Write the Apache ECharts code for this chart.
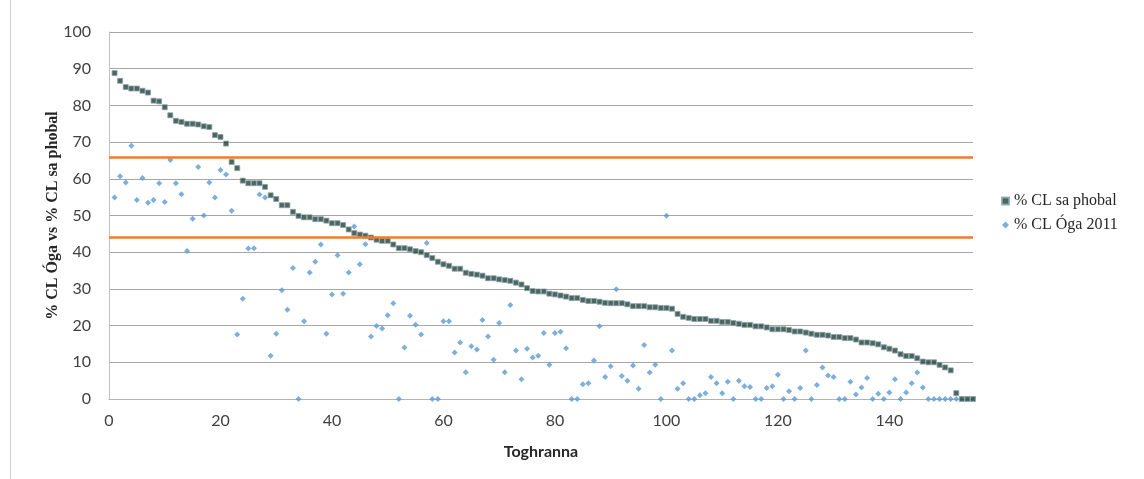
<!DOCTYPE html>
<html>
<head>
<meta charset="utf-8">
<script src="https://cdn.jsdelivr.net/npm/echarts@6/dist/echarts.min.js"></script>
<style>
html,body{margin:0;padding:0;background:#fff;}
#chart{width:1144px;height:479px;}
</style>
</head>
<body>
<div id="chart"></div>
<script>
var seriesNames = ['% CL sa phobal', '% CL Óga 2011'];
var xAxisTitle = 'Toghranna';
var yAxisTitle = '% CL Óga vs % CL sa phobal';
var thresholds = [65.8, 44.1];

var phobal = [
88.8,86.7,85.0,84.6,84.6,84.0,83.5,81.3,81.1,79.5,
77.3,75.8,75.5,75.0,75.0,74.8,74.3,74.1,71.9,71.4,
69.6,64.6,62.9,59.5,58.8,58.8,58.8,57.8,55.5,54.5,
52.8,52.8,51.0,49.9,49.5,49.5,49.0,49.0,48.6,47.9,
47.9,47.4,46.2,45.2,44.8,44.5,44.0,43.4,43.1,43.1,
42.1,41.1,41.1,40.8,40.3,40.0,39.2,38.4,37.4,36.7,
36.3,35.5,35.5,34.4,34.1,33.9,33.6,32.9,32.9,32.6,
32.4,32.2,31.7,31.2,30.2,29.4,29.3,29.3,28.7,28.5,
28.2,27.9,27.5,27.5,27.0,26.7,26.7,26.5,26.2,26.1,
26.1,26.1,25.8,25.3,25.3,25.3,25.0,25.0,24.8,24.8,
24.6,23.2,22.4,22.1,21.8,21.8,21.8,21.3,21.3,21.0,
21.0,20.7,20.5,20.2,20.2,19.8,19.8,19.5,19.0,19.0,
19.0,18.8,18.4,18.4,18.1,17.8,17.5,17.5,17.3,16.9,
16.9,16.6,16.6,16.2,15.4,15.4,15.2,14.9,14.1,13.7,
13.2,12.2,11.7,11.7,11.1,10.2,10.0,10.0,9.3,8.6,
7.8,1.6,0,0,0
];

var oga = [
54.9,60.7,59.0,69.0,54.2,60.2,53.5,54.2,58.8,53.7,
65.1,58.8,55.8,40.3,49.1,63.2,50.0,59.0,54.9,62.4,
61.2,51.3,17.6,27.3,41.0,41.1,55.7,54.9,11.8,17.8,
29.6,24.3,35.7,0,21.2,34.5,37.4,42.1,17.8,28.5,
39.2,28.7,34.5,47.0,36.7,42.2,17.0,19.9,19.2,22.8,
26.1,0,14.0,22.7,20.2,17.6,42.5,0,0,21.2,
21.2,12.7,15.4,7.3,14.4,13.5,21.5,17.0,10.7,20.7,
7.3,25.6,13.2,5.4,13.7,11.3,11.8,18.0,9.3,18.0,
18.3,13.8,0,0,4.0,4.3,10.5,19.8,6.0,8.9,
29.9,6.3,5.0,9.1,2.8,14.7,7.2,9.3,0,49.9,
13.2,2.8,4.3,0,0,1.0,1.6,6.0,4.3,1.6,
4.7,0,5.0,3.5,3.3,0,0,3.0,3.5,6.6,
0,2.1,0,3.0,13.2,0,3.8,8.6,6.4,6.0,
0,0,4.7,1.2,3.1,5.7,0,1.4,0,1.8,
5.4,0,1.8,4.3,7.2,3.1,0,0,0,0,
0,0
];

function toPoints(arr){
  return arr.map(function(v,i){ return [i+1, v]; });
}

var chart = echarts.init(document.getElementById('chart'), null, {renderer:'canvas'});
var labelColor = '#404040';
chart.setOption({
  animation:false,
  backgroundColor:'#ffffff',
  grid:{left:109, right:171, top:32, bottom:80, containLabel:false},
  xAxis:{
    type:'value', min:0, max:155, interval:20,
    name:xAxisTitle, nameLocation:'middle', nameGap:45,
    nameTextStyle:{fontFamily:'Lato', fontWeight:'bold', fontSize:16, color:'#262626'},
    axisLine:{show:true, lineStyle:{color:'#b3b3b3', width:1}},
    axisTick:{show:false},
    splitLine:{show:false},
    axisLabel:{fontFamily:'Lato', fontSize:16, color:labelColor, margin:14, showMaxLabel:false}
  },
  yAxis:{
    type:'value', min:0, max:100, interval:10,
    name:yAxisTitle, nameLocation:'middle', nameGap:48, nameRotate:90,
    nameMoveOverlap:false,
    nameTextStyle:{fontFamily:'Liberation Serif', fontWeight:'bold', fontSize:16, color:'#262626'},
    axisLine:{show:true, lineStyle:{color:'#c0c0c0', width:1}},
    axisTick:{show:false},
    splitLine:{show:true, lineStyle:{color:'#a6a6a6', width:1}},
    axisLabel:{fontFamily:'Lato', fontSize:16, color:labelColor, margin:18}
  },
  legend:{
    orient:'vertical', left:1001, top:193, itemGap:8, padding:0,
    itemWidth:7, itemHeight:7,
    textStyle:{fontFamily:'Liberation Serif', fontSize:16, color:'#262626'},
    data:[{name:seriesNames[0], icon:'rect'},{name:seriesNames[1], icon:'diamond'}]
  },
  graphic:[{
    type:'line', shape:{x1:10.5,y1:0,x2:10.5,y2:479},
    style:{stroke:'#d0d0d0', lineWidth:1}, silent:true
  }],
  series:[
    {
      name:seriesNames[0], type:'scatter', symbol:'rect', symbolSize:5,
      itemStyle:{color:'#21402e', borderColor:'#8aa3b5', borderWidth:1},
      data:toPoints(phobal),
      markLine:{
        silent:true, symbol:['none','none'], label:{show:false},
        lineStyle:{color:'#ED7D31', width:2.5, type:'solid'},
        data: thresholds.map(function(t){ return {yAxis:t}; })
      },
      z:2
    },
    {
      name:seriesNames[1], type:'scatter', symbol:'diamond', symbolSize:6,
      itemStyle:{color:'#5b9bd5'},
      data:toPoints(oga),
      z:3
    }
  ]
});
</script>
</body>
</html>
